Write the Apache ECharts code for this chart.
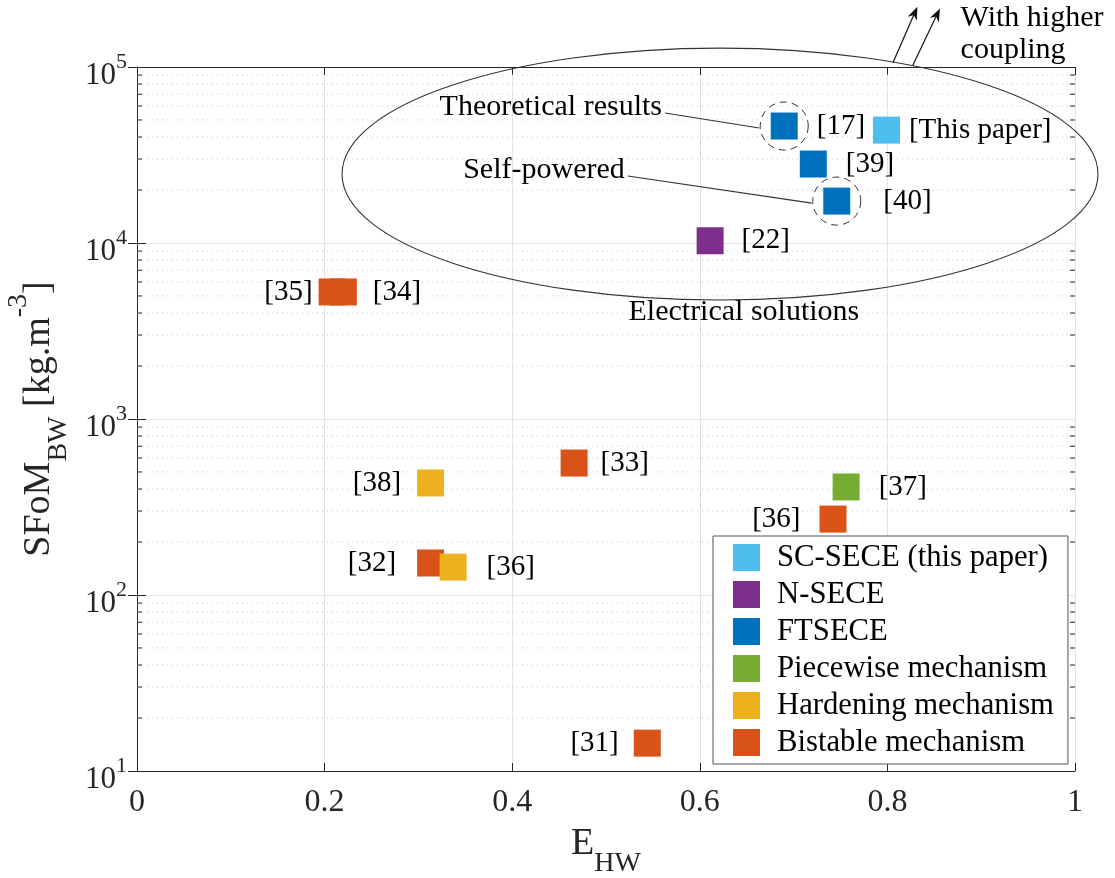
<!DOCTYPE html>
<html><head><meta charset="utf-8">
<script src="https://cdn.jsdelivr.net/npm/echarts@6/dist/echarts.min.js"></script>
<style>html,body{margin:0;padding:0;background:#fff}#c{width:1115px;height:878px}</style>
</head><body><div id="c"></div>
<script>
// ---------- data ----------
const xTicks = [0, 0.2, 0.4, 0.6, 0.8, 1];
const yTickExponents = [1, 2, 3, 4, 5];
const seriesNames = ['SC-SECE (this paper)', 'N-SECE', 'FTSECE', 'Piecewise mechanism', 'Hardening mechanism', 'Bistable mechanism'];

const scSece = [[0.799, 43800]];
const scSeceRefs = ['[This paper]'];
const nSece = [[0.611, 10300]];
const nSeceRefs = ['[22]'];
const ftSece = [[0.690, 46200], [0.721, 28100], [0.746, 17300]];
const ftSeceRefs = ['[17]', '[39]', '[40]'];
const piecewise = [[0.756, 411]];
const piecewiseRefs = ['[37]'];
const hardening = [[0.313, 433], [0.337, 144]];
const hardeningRefs = ['[38]', '[36]'];
const bistable = [[0.208, 5270], [0.220, 5270], [0.466, 562], [0.313, 152], [0.742, 270], [0.544, 14.4]];
const bistableRefs = ['[35]', '[34]', '[33]', '[32]', '[36]', '[31]'];

// annotation anchors (data coordinates)
const ellipseExtent = { xLeft: 0.2186, xRight: 1.0245, yTop: 128000, yBottom: 4740 };
const arrowPaths = [[[0.806, 106000], [0.832, 220000]], [[0.827, 102000], [0.856, 215000]]];
const annotTexts = [
  { text: 'With higher', at: [0.878, 189600], align: 'left' },
  { text: 'coupling', at: [0.878, 124900], align: 'left' },
  { text: 'Electrical solutions', at: [0.647, 4055], align: 'center' },
  { text: 'Theoretical results', at: [0.5597, 59300], align: 'right' },
  { text: 'Self-powered', at: [0.520, 26000], align: 'right' }
];
const leaders = [
  { from: [0.5597, 59300], to: ftSece[0] },
  { from: [0.520, 26000], to: ftSece[2] }
];
const circled = [ftSece[0], ftSece[2]];

// ---------- styles ----------
const FONT = 'Liberation Serif';
const colors = {
  'SC-SECE (this paper)': '#4DBEEE', 'N-SECE': '#7E2F8E', 'FTSECE': '#0072BD',
  'Piecewise mechanism': '#77AC30', 'Hardening mechanism': '#EDB120', 'Bistable mechanism': '#D95319'
};
const labelPlace = {
  'SC-SECE (this paper)': [['right', 9]],
  'N-SECE': [['right', 18]],
  'FTSECE': [['right', 19], ['right', 19], ['right', 33]],
  'Piecewise mechanism': [['right', 19]],
  'Hardening mechanism': [['left', 16], ['right', 20]],
  'Bistable mechanism': [['left', 6], ['right', 16], ['right', 13], ['left', 21], ['left', 19], ['left', 15]]
};
const AX = '#262626';

function makeScatter(name, pts, refs) {
  return {
    type: 'scatter', name: name, symbol: 'rect', symbolSize: 27, z: 3,
    itemStyle: { color: colors[name], opacity: 1 },
    data: pts.map((p, i) => ({
      value: p,
      label: {
        show: true, formatter: refs[i], position: labelPlace[name][i][0], distance: labelPlace[name][i][1],
        fontFamily: FONT, fontSize: 29, color: '#000'
      }
    })),
    emphasis: { disabled: true }
  };
}

const minorVals = [];
for (let e = yTickExponents[0]; e < yTickExponents[yTickExponents.length - 1]; e++) {
  for (let m = 2; m <= 9; m++) minorVals.push([0, m * Math.pow(10, e)]);
}

const nameRich = {
  m: { fontFamily: FONT, fontSize: 38, color: '#262626', lineHeight: 68 },
  s: { fontFamily: FONT, fontSize: 28, color: '#262626', lineHeight: 26, verticalAlign: 'bottom' },
  p: { fontFamily: FONT, fontSize: 28, color: '#262626', lineHeight: 40, verticalAlign: 'top' }
};

const chart = echarts.init(document.getElementById('c'), null, { renderer: 'canvas' });

const option = {
  backgroundColor: '#fff',
  animation: false,
  grid: { left: 137, right: 40, top: 67, bottom: 107, containLabel: false, outerBoundsMode: 'none' },
  xAxis: [{
    type: 'value', min: xTicks[0], max: xTicks[xTicks.length - 1], interval: 0.2,
    axisLine: { show: true, lineStyle: { color: AX } },
    axisTick: { show: true, inside: true, length: 8, lineStyle: { color: AX } },
    axisLabel: { fontFamily: FONT, fontSize: 32, color: '#262626', margin: 16, formatter: v => String(v) },
    splitLine: { show: true, lineStyle: { color: '#e3e3e3', width: 1 } },
    name: '{m|E}{s|HW}', nameLocation: 'middle', nameGap: 39,
    nameTextStyle: { rich: nameRich }
  }, {
    type: 'value', position: 'top', min: xTicks[0], max: xTicks[xTicks.length - 1], interval: 0.2,
    axisLine: { show: true, lineStyle: { color: AX } },
    axisTick: { show: true, inside: true, length: 8, lineStyle: { color: AX } },
    axisLabel: { show: false }, splitLine: { show: false }
  }],
  yAxis: [{
    type: 'log', logBase: 10, min: Math.pow(10, yTickExponents[0]), max: Math.pow(10, yTickExponents[yTickExponents.length - 1]),
    axisLine: { show: true, lineStyle: { color: AX } },
    axisTick: { show: true, inside: true, length: 9, lineStyle: { color: AX } },
    axisLabel: {
      margin: 10, padding: [18, 0, 0, 0],
      formatter: v => '{b|10}{s|' + Math.round(Math.log10(v)) + '}',
      rich: {
        b: { fontFamily: FONT, fontSize: 31, color: '#262626', lineHeight: 50 },
        s: { fontFamily: FONT, fontSize: 22, color: '#262626', lineHeight: 22, verticalAlign: 'top' }
      }
    },
    splitLine: { show: true, lineStyle: { color: '#e3e3e3', width: 1 } },
    name: '{m|SFoM}{s|BW}{m| [kg.m}{p|-3}{m|]}', nameLocation: 'middle', nameGap: 64, nameRotate: 90,
    nameTextStyle: { rich: nameRich }
  }, {
    type: 'log', logBase: 10, position: 'right', min: Math.pow(10, yTickExponents[0]), max: Math.pow(10, yTickExponents[yTickExponents.length - 1]),
    axisLine: { show: true, lineStyle: { color: AX } },
    axisTick: { show: true, inside: true, length: 9, lineStyle: { color: AX } },
    axisLabel: { show: false }, splitLine: { show: false }
  }],
  legend: {
    data: seriesNames, orient: 'vertical', left: 713, top: 536,
    padding: [6, 14, 6, 20], itemGap: 6, itemWidth: 27, itemHeight: 27, icon: 'rect',
    backgroundColor: '#fff', borderColor: '#555', borderWidth: 1, selectedMode: false,
    textStyle: { fontFamily: FONT, fontSize: 30.7, color: '#000', lineHeight: 30, padding: [0, 0, 0, 12] }
  },
  series: [
    {
      type: 'custom', name: 'minor', silent: true, z: 1, xAxisIndex: 0, yAxisIndex: 0,
      encode: { x: 0, y: 1 }, data: minorVals, clip: false,
      renderItem: function (params, api) {
        const v = api.value(1);
        const p0 = api.coord([xTicks[0], v]);
        const p1 = api.coord([xTicks[xTicks.length - 1], v]);
        return { type: 'group', children: [
          { type: 'line', shape: { x1: p0[0], y1: p0[1], x2: p1[0], y2: p1[1] }, style: { stroke: '#c9c9c9', lineWidth: 1, lineDash: [1, 4] } },
          { type: 'line', shape: { x1: p0[0], y1: p0[1], x2: p0[0] + 5, y2: p0[1] }, style: { stroke: AX, lineWidth: 1 } },
          { type: 'line', shape: { x1: p1[0] - 5, y1: p1[1], x2: p1[0], y2: p1[1] }, style: { stroke: AX, lineWidth: 1 } }
        ] };
      }
    },
    makeScatter('SC-SECE (this paper)', scSece, scSeceRefs),
    makeScatter('N-SECE', nSece, nSeceRefs),
    makeScatter('FTSECE', ftSece, ftSeceRefs),
    makeScatter('Piecewise mechanism', piecewise, piecewiseRefs),
    makeScatter('Bistable mechanism', bistable, bistableRefs),
    makeScatter('Hardening mechanism', hardening, hardeningRefs)
  ]
};
chart.setOption(option);

// ---------- annotations ----------
function px(p) { return chart.convertToPixel({ gridIndex: 0 }, p); }
const g = [];
const eL = px([ellipseExtent.xLeft, ellipseExtent.yTop]);
const eR = px([ellipseExtent.xRight, ellipseExtent.yBottom]);
g.push({ type: 'ellipse', z: 10, shape: { cx: (eL[0] + eR[0]) / 2, cy: (eL[1] + eR[1]) / 2, rx: (eR[0] - eL[0]) / 2, ry: (eR[1] - eL[1]) / 2 },
  style: { fill: null, stroke: '#333', lineWidth: 1.1 } });
arrowPaths.forEach(ap => {
  const a = px(ap[0]), b = px(ap[1]);
  const ang = Math.atan2(b[1] - a[1], b[0] - a[0]);
  const L = 13, W = 5, notch = 4;
  const bx = b[0] - L * Math.cos(ang), by = b[1] - L * Math.sin(ang);
  const nx = b[0] - (L - notch) * Math.cos(ang), ny = b[1] - (L - notch) * Math.sin(ang);
  g.push({ type: 'line', z: 10, shape: { x1: a[0], y1: a[1], x2: nx, y2: ny }, style: { stroke: '#111', lineWidth: 1.2 } });
  g.push({ type: 'polygon', z: 10, shape: { points: [[b[0], b[1]],
    [bx + W * Math.sin(ang), by - W * Math.cos(ang)], [nx, ny], [bx - W * Math.sin(ang), by + W * Math.cos(ang)]] },
    style: { fill: '#111' } });
});
circled.forEach(p => {
  const c = px(p);
  g.push({ type: 'circle', z: 10, shape: { cx: c[0], cy: c[1], r: 24 }, style: { fill: null, stroke: '#333', lineWidth: 1, lineDash: [7, 5] } });
});
leaders.forEach(l => {
  const a = px(l.from), b = px(l.to);
  g.push({ type: 'line', z: 10, shape: { x1: a[0] + 3, y1: a[1] + 6, x2: b[0] - 25, y2: b[1] + 2 }, style: { stroke: '#333', lineWidth: 1.1 } });
});
annotTexts.forEach(t => {
  const p = px(t.at);
  g.push({ type: 'text', z: 11, x: p[0], y: p[1], style: { text: t.text, fontFamily: FONT, fontSize: 30, fill: '#000', align: t.align, verticalAlign: 'middle' } });
});
chart.setOption({ graphic: g });
</script>
</body></html>
